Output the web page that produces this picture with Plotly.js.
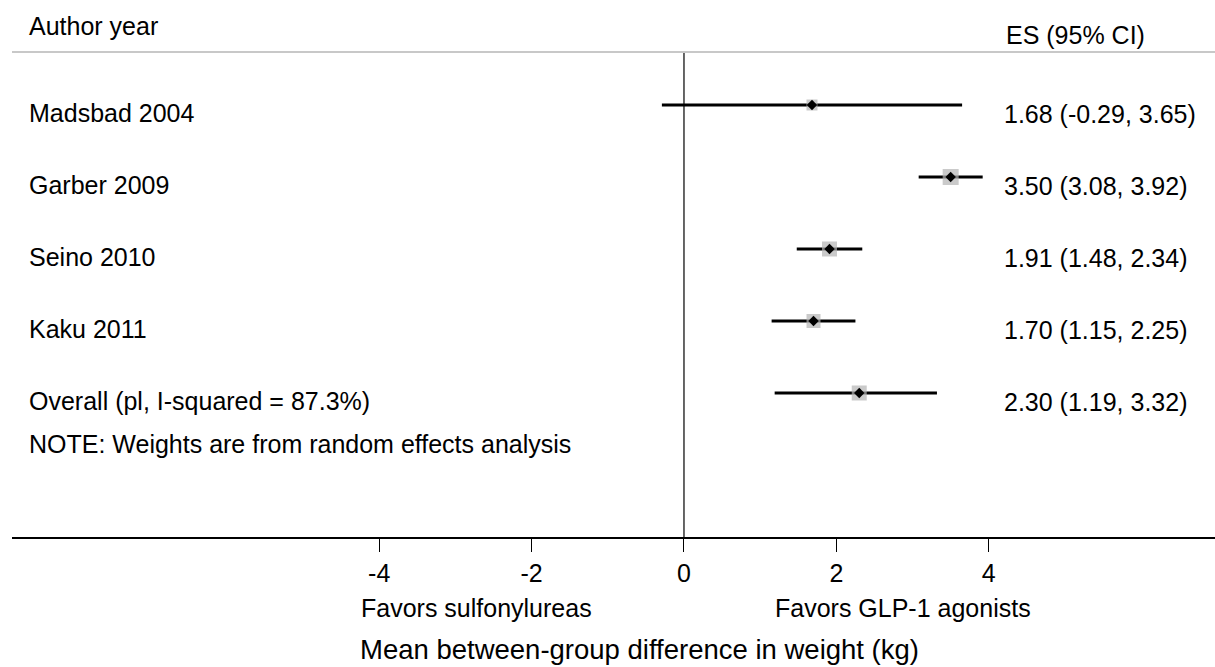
<!DOCTYPE html>
<html>
<head>
<meta charset="utf-8">
<script src="https://cdn.plot.ly/plotly-3.0.1.min.js"></script>
<style>html,body{margin:0;padding:0;background:#fff;}#chart{width:1215px;height:667px;}</style>
</head>
<body>
<div id="chart"></div>
<script>
// ---- data ----
const authors = ["Madsbad 2004", "Garber 2009", "Seino 2010", "Kaku 2011", "Overall (pl, I-squared = 87.3%)"];
const es = [1.68, 3.50, 1.91, 1.70, 2.30];
const lo = [-0.29, 3.08, 1.48, 1.15, 1.19];
const hi = [3.65, 3.92, 2.34, 2.25, 3.32];
const tickVals = [-4, -2, 0, 2, 4];
const tickText = ["-4", "-2", "0", "2", "4"];
const headerLeft = "Author year";
const headerRight = "ES (95% CI)";
const noteText = "NOTE: Weights are from random effects analysis";
const favorsLeft = "Favors sulfonylureas";
const favorsRight = "Favors GLP-1 agonists";
const xTitle = "Mean between-group difference in weight (kg)";

// ---- styles ----
const boxSizes = [11, 16, 15, 14, 15];
const FONT = "Liberation Sans, Arial, sans-serif";
const FS = 25;
const txtFont = {family: FONT, size: FS, color: "#000"};

const rows = authors.map((_, i) => i);
const esLabels = es.map((v, i) => v.toFixed(2) + " (" + lo[i].toFixed(2) + ", " + hi[i].toFixed(2) + ")");

const traces = [
  {
    type: "scatter", mode: "markers", x: es, y: rows, hoverinfo: "skip",
    marker: {symbol: "square", size: boxSizes, color: "#b4b4b4", line: {width: 0}},
    error_x: {type: "data", symmetric: false,
      array: hi.map((h, i) => h - es[i]), arrayminus: lo.map((l, i) => es[i] - l),
      color: "#000", thickness: 3, width: 0}
  },
  {
    type: "scatter", mode: "markers", x: es, y: rows, hoverinfo: "skip",
    marker: {symbol: "diamond", size: 8, color: "#000", line: {width: 0}}
  }
];

const annotations = [];
const leftX = (27 - 12) / 1203;
const rightX = (1002 - 12) / 1203;
rows.forEach(i => {
  annotations.push({xref: "paper", yref: "y", x: leftX, y: i, yshift: -8, text: authors[i],
    showarrow: false, xanchor: "left", yanchor: "middle", font: txtFont});
  annotations.push({xref: "paper", yref: "y", x: rightX, y: i, yshift: -9, text: esLabels[i],
    showarrow: false, xanchor: "left", yanchor: "middle", font: txtFont});
});
annotations.push({xref: "paper", yref: "y", x: leftX, y: -1.097, text: headerLeft,
  showarrow: false, xanchor: "left", yanchor: "middle", font: txtFont});
annotations.push({xref: "paper", yref: "y", x: (1004 - 12) / 1203, y: -0.972, text: headerRight,
  showarrow: false, xanchor: "left", yanchor: "middle", font: txtFont});
annotations.push({xref: "paper", yref: "y", x: leftX, y: 4.708, text: noteText,
  showarrow: false, xanchor: "left", yanchor: "middle", font: txtFont});
annotations.push({xref: "x", yref: "paper", x: -2.72, y: (537 - 608) / 537, text: favorsLeft,
  showarrow: false, xanchor: "center", yanchor: "middle", font: txtFont});
annotations.push({xref: "x", yref: "paper", x: 2.87, y: (537 - 608) / 537, text: favorsRight,
  showarrow: false, xanchor: "center", yanchor: "middle", font: txtFont});
annotations.push({xref: "paper", yref: "paper", x: (358 - 12) / 1203, y: (537 - 649) / 537, text: xTitle,
  showarrow: false, xanchor: "left", yanchor: "middle",
  font: {family: FONT, size: 27.5, color: "#000"}});

const layout = {
  width: 1215, height: 667,
  margin: {l: 12, r: 0, t: 0, b: 130, pad: 0},
  paper_bgcolor: "#fff", plot_bgcolor: "#fff",
  showlegend: false,
  xaxis: {
    range: [-8.819, 6.969], showgrid: false, zeroline: false,
    showline: true, linecolor: "#000", linewidth: 1.5,
    ticks: "outside", ticklen: 13, tickwidth: 1, tickcolor: "#000",
    tickmode: "array", tickvals: tickVals, ticktext: tickText,
    tickfont: txtFont, fixedrange: true
  },
  yaxis: {range: [6.0, -1.458], visible: false, fixedrange: true},
  shapes: [
    {type: "line", xref: "paper", yref: "y", x0: 0, x1: 1, y0: -0.736, y1: -0.736,
      line: {color: "#c8c8c8", width: 2}},
    {type: "line", xref: "x", yref: "y", x0: 0, x1: 0, y0: -0.736, y1: 6,
      line: {color: "#000", width: 1.2}, layer: "below"}
  ],
  annotations: annotations
};

Plotly.newPlot("chart", traces, layout, {displayModeBar: false, staticPlot: true});
</script>
</body>
</html>
